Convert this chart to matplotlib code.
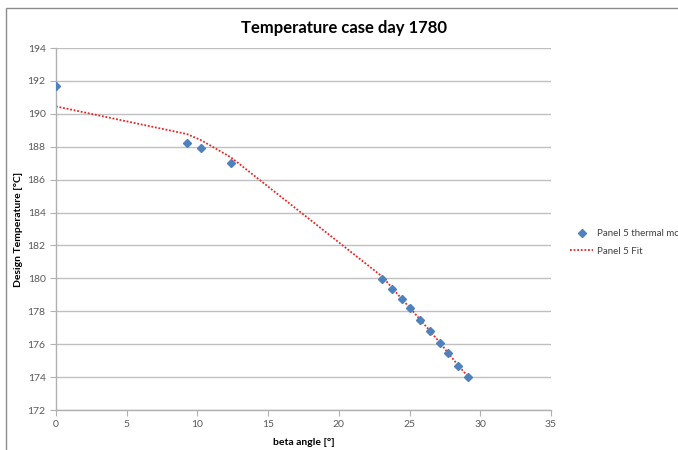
import matplotlib
matplotlib.use("Agg")
import matplotlib.pyplot as plt
from matplotlib.patches import Rectangle

plt.rcParams['font.family'] = ['Lato', 'DejaVu Sans']

beta = [0.0, 9.26, 10.25, 12.38, 23.08, 23.74, 24.45, 25.03, 25.74, 26.45, 27.16, 27.74, 28.45, 29.16]
temp_model = [191.7, 188.22, 187.92, 187.0, 179.98, 179.37, 178.72, 178.18, 177.48, 176.78, 176.07, 175.44, 174.67, 174.0]
temp_fit = [190.45, 188.77, 188.4, 187.35, 180.1, 179.45, 178.75, 178.2, 177.5, 176.8, 176.08, 175.45, 174.7, 174.0]
x_ticks = [0, 5, 10, 15, 20, 25, 30, 35]
y_ticks = [172, 174, 176, 178, 180, 182, 184, 186, 188, 190, 192, 194]

W, H = 678, 450
fig = plt.figure(figsize=(W / 100, H / 100), dpi=100)
fig.patches.append(Rectangle((6 / W, -0.05), 1.2, (H - 8) / H + 0.05,
                             transform=fig.transFigure, fill=False,
                             edgecolor='#8c8c8c', linewidth=1.0))

ax = fig.add_axes([56 / W, (H - 410) / H, (551 - 56) / W, (410 - 48) / H])
ax.plot(beta, temp_fit, linestyle=(0, (1, 1)), color='#ee2222', linewidth=1.3,
        label='Panel 5 Fit', zorder=2)
ax.plot(beta, temp_model, linestyle='none', marker='D', markersize=3.6,
        color='#4f81bd', label='Panel 5 thermal model', zorder=3)

ax.set_xlim(0, 35)
ax.set_ylim(172, 194)
ax.set_xticks(x_ticks)
ax.set_yticks(y_ticks)
ax.grid(axis='y', color='#c0c0c0', linewidth=1.0)
ax.set_axisbelow(True)
for s in ['top', 'right']:
    ax.spines[s].set_visible(False)
for s in ['left', 'bottom']:
    ax.spines[s].set_color('#b0b0b0')
    ax.spines[s].set_linewidth(1.0)
ax.tick_params(axis='both', colors='#b0b0b0', labelcolor='#595959',
               labelsize=7.5, length=4, direction='out')

ax.set_xlabel('beta angle [°]', fontsize=7.5, fontweight='bold', color='#000000', labelpad=6)
ax.set_ylabel('Design Temperature [°C]', fontsize=7.5, fontweight='bold', color='#000000')
ax.yaxis.set_label_coords((23 - 56) / (551 - 56), 0.5)
fig.text(344 / W, 1 - 28 / H, 'Temperature case day 1780', ha='center', va='center',
         fontsize=12, fontweight='bold')

handles, labels = ax.get_legend_handles_labels()
fig.legend([handles[1], handles[0]], [labels[1], labels[0]],
           loc='upper left', bbox_to_anchor=(570 / W, 1 - 229 / H),
           frameon=False, fontsize=7, handlelength=2.4, handletextpad=0.4,
           labelspacing=0.9, borderpad=0, borderaxespad=0, labelcolor='#404040')

fig.savefig('out.png', dpi=100)
